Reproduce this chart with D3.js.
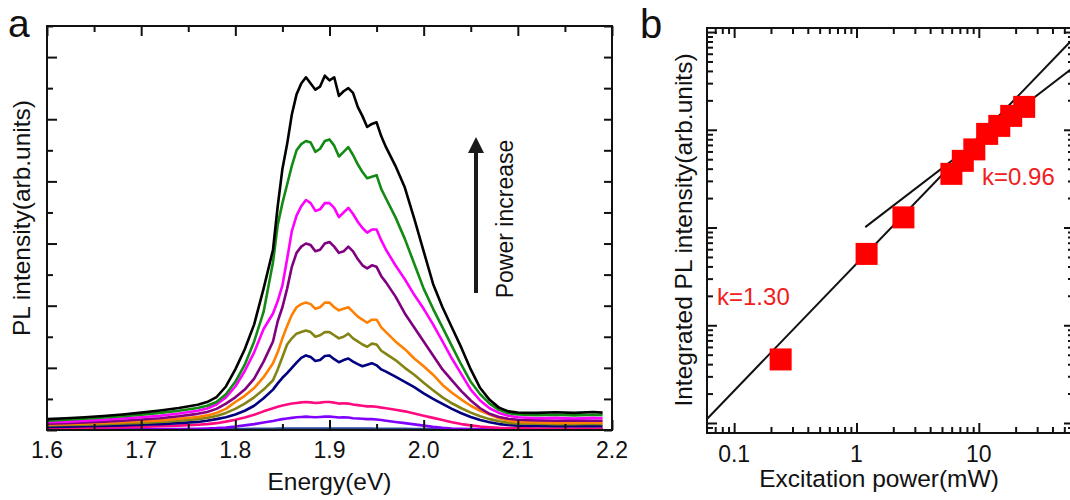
<!DOCTYPE html>
<html><head><meta charset="utf-8">
<script src="https://cdn.jsdelivr.net/npm/d3@7"></script>
<style>
body{margin:0;background:#fff}
svg{display:block}
text{font-family:"Liberation Sans",Arial,Helvetica,sans-serif;fill:#111}
</style>
</head><body>
<svg id="c" width="1070" height="500"></svg>
<script>
// ---------- Panel a data: PL spectra ----------
const energy = [1.60,1.62,1.64,1.66,1.68,1.70,1.72,1.74,1.76,1.77,1.78,1.79,1.80,1.81,1.82,1.83,
  1.84,1.845,1.85,1.855,1.86,1.865,1.87,1.875,1.88,1.885,1.89,1.895,1.90,1.905,1.91,1.915,1.92,1.925,1.93,1.935,1.94,1.945,1.95,1.955,1.96,
  1.97,1.98,1.99,2.00,2.01,2.02,2.03,2.04,2.05,2.06,2.07,2.08,2.09,2.10,
  2.12,2.14,2.16,2.18,2.19];

const plBlack = [0.35,0.38,0.41,0.45,0.50,0.56,0.63,0.71,0.81,0.90,1.06,1.40,1.95,2.60,3.40,4.55,
  5.80,7.20,8.40,9.20,10.15,10.80,11.15,11.35,11.15,10.95,11.05,11.40,11.25,11.35,10.75,10.90,11.00,10.85,10.40,10.10,9.75,9.85,9.90,9.45,9.10,
  8.50,7.80,6.80,5.75,4.70,3.95,3.30,2.65,1.95,1.35,0.97,0.72,0.60,0.56,
  0.55,0.57,0.55,0.58,0.56];
const plGreen = [0.30,0.33,0.36,0.40,0.44,0.49,0.55,0.62,0.71,0.78,0.90,1.15,1.55,2.10,2.85,3.80,
  5.40,6.60,7.30,7.90,8.50,9.00,9.20,9.30,9.25,8.95,9.05,9.30,9.35,9.15,8.80,8.95,9.10,8.85,8.55,8.30,8.10,8.15,8.20,7.75,7.45,
  6.85,6.15,5.35,4.55,3.90,3.30,2.70,2.10,1.55,1.15,0.85,0.65,0.54,0.50,
  0.48,0.49,0.47,0.49,0.48];
const plMagenta = [0.25,0.27,0.30,0.33,0.37,0.41,0.46,0.53,0.62,0.69,0.82,1.05,1.40,1.90,2.50,3.25,
  3.75,4.15,4.65,5.50,6.40,6.90,7.20,7.40,7.30,7.05,7.10,7.30,7.30,7.15,6.85,7.00,7.15,6.95,6.70,6.50,6.35,6.45,6.45,6.10,5.80,
  5.30,4.85,4.35,3.90,3.40,2.85,2.30,1.80,1.30,0.95,0.70,0.55,0.46,0.41,
  0.38,0.39,0.37,0.39,0.38];
const plPurple = [0.20,0.22,0.24,0.27,0.30,0.34,0.38,0.44,0.52,0.58,0.68,0.85,1.05,1.30,1.65,2.20,
  2.85,3.50,3.95,4.55,5.25,5.70,5.90,6.00,5.95,5.75,5.80,6.00,6.05,5.90,5.70,5.75,5.90,5.75,5.50,5.30,5.20,5.30,5.25,4.95,4.75,
  4.30,3.75,3.30,2.85,2.40,1.95,1.60,1.25,0.95,0.70,0.52,0.42,0.36,0.33,
  0.31,0.30,0.31,0.30,0.30];
const plOrange = [0.18,0.19,0.21,0.23,0.25,0.28,0.31,0.36,0.42,0.47,0.55,0.68,0.90,1.10,1.35,1.70,
  2.15,2.50,2.95,3.35,3.70,3.95,4.05,4.10,4.05,3.90,3.95,4.10,4.10,3.95,3.85,3.90,3.95,3.80,3.65,3.55,3.45,3.55,3.55,3.30,3.15,
  2.85,2.60,2.30,2.05,1.78,1.45,1.20,0.98,0.78,0.62,0.50,0.38,0.31,0.26,
  0.24,0.23,0.23,0.24,0.23];
const plOlive = [0.15,0.16,0.17,0.19,0.21,0.23,0.26,0.30,0.35,0.39,0.45,0.55,0.68,0.85,1.05,1.30,
  1.60,1.95,2.35,2.75,2.95,3.10,3.15,3.20,3.15,3.00,3.05,3.15,3.15,3.05,2.95,3.00,3.10,2.95,2.85,2.75,2.68,2.78,2.75,2.55,2.45,
  2.25,2.00,1.78,1.52,1.28,1.05,0.86,0.70,0.56,0.44,0.35,0.28,0.23,0.21,
  0.20,0.19,0.19,0.20,0.19];
const plNavy = [0.10,0.11,0.12,0.13,0.15,0.17,0.19,0.22,0.26,0.30,0.35,0.41,0.50,0.62,0.78,1.02,
  1.30,1.50,1.68,1.83,2.00,2.17,2.32,2.40,2.35,2.22,2.25,2.38,2.40,2.28,2.18,2.25,2.30,2.20,2.12,2.05,2.10,2.15,2.08,1.95,1.88,
  1.72,1.55,1.38,1.18,1.00,0.84,0.68,0.54,0.42,0.32,0.25,0.19,0.16,0.14,
  0.13,0.12,0.12,0.13,0.12];
const plPink = [0.05,0.06,0.07,0.08,0.09,0.10,0.12,0.14,0.17,0.19,0.22,0.27,0.33,0.40,0.49,0.60,
  0.70,0.75,0.79,0.82,0.85,0.87,0.89,0.90,0.89,0.87,0.88,0.90,0.90,0.88,0.85,0.86,0.85,0.82,0.80,0.78,0.76,0.76,0.75,0.72,0.70,
  0.65,0.60,0.53,0.46,0.39,0.32,0.25,0.19,0.15,0.11,0.09,0.07,0.06,0.06,
  0.05,0.05,0.05,0.05,0.05];
const plViolet = [0.02,0.02,0.02,0.02,0.02,0.03,0.03,0.03,0.04,0.05,0.06,0.08,0.11,0.15,0.19,0.24,
  0.29,0.32,0.35,0.37,0.39,0.41,0.42,0.43,0.42,0.41,0.42,0.43,0.43,0.42,0.40,0.41,0.40,0.38,0.37,0.36,0.35,0.35,0.34,0.32,0.30,
  0.26,0.22,0.18,0.14,0.10,0.07,0.05,0.04,0.03,0.03,0.02,0.02,0.02,0.02,
  0.02,0.02,0.02,0.02,0.02];
const plBlue = [0.02,0.02,0.02,0.02,0.02,0.02,0.02,0.02,0.02,0.02,0.02,0.03,0.03,0.03,0.04,0.04,
  0.04,0.05,0.05,0.05,0.05,0.05,0.05,0.05,0.05,0.05,0.05,0.05,0.05,0.05,0.05,0.05,0.05,0.05,0.05,0.05,0.05,0.05,0.04,0.04,0.04,
  0.04,0.04,0.03,0.03,0.03,0.03,0.02,0.02,0.02,0.02,0.02,0.02,0.02,0.02,
  0.02,0.02,0.02,0.02,0.02];

const spectraOrder = ["blue","violet","pink","navy","olive","orange","purple","magenta","green","black"];
const spectraValues = [plBlue,plViolet,plPink,plNavy,plOlive,plOrange,plPurple,plMagenta,plGreen,plBlack];
const spectraColors = ["#2a4a98","#8000ff","#ff0a80","#000080","#848414","#ff8000","#800080","#ff00ff","#138a13","#000000"];

const energyMajorTicks = [1.6,1.7,1.8,1.9,2.0,2.1,2.2];
const energyTickLabels = ["1.6","1.7","1.8","1.9","2.0","2.1","2.2"];
const energyMinorTicks = [1.65,1.75,1.85,1.95,2.05,2.15];
const plMajorTicks = [0,2,4,6,8,10,12];
const plMinorTicks = [1,3,5,7,9,11,13];

// ---------- Panel b data: integrated PL vs power ----------
const powerMW = [0.24,1.21,2.42,5.97,7.40,9.19,11.7,14.7,18.4,23.5];
const integratedPL = [4.47,53.7,127,354,481,630,908,1096,1387,1715];
const fitLowX = [0.06,60];     // k = 1.30
const fitLowY = [1.10,8710];
const fitHighX = [1.18,60];    // k = 0.96
const fitHighY = [101,4385];
const powerMajorTicks = [0.1,1,10];
const powerTickLabels = ["0.1","1","10"];
const powerMinorTicks = [0.07,0.08,0.09,0.2,0.3,0.4,0.5,0.6,0.7,0.8,0.9,2,3,4,5,6,7,8,9,20,30,40,50,60];
const intMajorTicks = [1,10,100,1000,10000];
const intMinorTicks = [0.8,0.9,2,3,4,5,6,7,8,9,20,30,40,50,60,70,80,90,200,300,400,500,600,700,800,900,2000,3000,4000,5000,6000,7000,8000,9000];

// ---------- drawing ----------
const svg = d3.select("#c");
const FONT = 23;

function tickSet(g, axisGen, vals, size){
  g.append("g").call(axisGen.tickValues(vals).tickSize(size).tickFormat(""))
    .call(s => { s.select(".domain").remove(); s.selectAll("line").attr("stroke","#111").attr("stroke-width",2); });
}

// ===== Panel a =====
const A = {l:47, r:612, t:26, b:430};
const xA = d3.scaleLinear().domain([1.6,2.2]).range([A.l,A.r]);
const yA = d3.scaleLinear().domain([0,13]).range([A.b,A.t]);

svg.append("clipPath").attr("id","clipA").append("rect")
  .attr("x",A.l).attr("y",A.t).attr("width",A.r-A.l).attr("height",A.b-A.t);

const gA = svg.append("g");
const line = d3.line().x((d,i)=>xA(energy[i])).y(d=>yA(d));
const curves = gA.append("g").attr("clip-path","url(#clipA)");
spectraValues.forEach((vals,k)=>{
  curves.append("path").datum(vals).attr("d",line)
    .attr("fill","none").attr("stroke",spectraColors[k]).attr("stroke-width",2.6)
    .attr("stroke-linejoin","round");
});

// ticks
const axA = gA.append("g");
tickSet(axA.append("g").attr("transform",`translate(0,${A.b})`), d3.axisBottom(xA), energyMajorTicks, -10);
tickSet(axA.append("g").attr("transform",`translate(0,${A.b})`), d3.axisBottom(xA), energyMinorTicks, -6);
tickSet(axA.append("g").attr("transform",`translate(0,${A.t})`), d3.axisTop(xA), energyMajorTicks, -10);
tickSet(axA.append("g").attr("transform",`translate(0,${A.t})`), d3.axisTop(xA), energyMinorTicks, -6);
tickSet(axA.append("g").attr("transform",`translate(${A.l},0)`), d3.axisLeft(yA), plMajorTicks, -10);
tickSet(axA.append("g").attr("transform",`translate(${A.l},0)`), d3.axisLeft(yA), plMinorTicks, -6);
tickSet(axA.append("g").attr("transform",`translate(${A.r},0)`), d3.axisRight(yA), plMajorTicks, -8);
tickSet(axA.append("g").attr("transform",`translate(${A.r},0)`), d3.axisRight(yA), plMinorTicks, -8);

gA.append("rect").attr("x",A.l).attr("y",A.t).attr("width",A.r-A.l).attr("height",A.b-A.t)
  .attr("fill","none").attr("stroke","#111").attr("stroke-width",2);

energyMajorTicks.forEach((v,i)=>{
  gA.append("text").attr("x",xA(v)).attr("y",458).attr("text-anchor","middle")
    .attr("font-size",FONT).text(energyTickLabels[i]);
});
gA.append("text").attr("x",(A.l+A.r)/2+0).attr("y",490).attr("text-anchor","middle")
  .attr("font-size",24.5).text("Energy(eV)");
gA.append("text").attr("transform",`translate(30,218) rotate(-90)`).attr("text-anchor","middle")
  .attr("font-size",24.5).text("PL intensity(arb.units)");
svg.append("text").attr("x",8).attr("y",37).attr("font-size",39).text("a");

// arrow + annotation
const arrowX = 476;
gA.append("line").attr("x1",arrowX).attr("x2",arrowX).attr("y1",293).attr("y2",150)
  .attr("stroke","#1a1a1a").attr("stroke-width",4);
gA.append("path").attr("d",`M${arrowX},137 L${arrowX-8},153 L${arrowX+8},153 Z`).attr("fill","#1a1a1a");
gA.append("text").attr("transform",`translate(513,219) rotate(-90)`).attr("text-anchor","middle")
  .attr("font-size",23).text("Power increase");

// ===== Panel b =====
const B = {l:707, r:1074, t:28, b:433};
const xB = d3.scaleLog().domain([0.06,60]).range([B.l,B.r]);
const yB = d3.scaleLog().domain([0.79,11000]).range([B.b,B.t]);

svg.append("clipPath").attr("id","clipB").append("rect")
  .attr("x",B.l).attr("y",B.t).attr("width",B.r-B.l).attr("height",B.b-B.t);
const gB = svg.append("g");

const fitLine = d3.line().x(d=>xB(d[0])).y(d=>yB(d[1]));
const fits = gB.append("g").attr("clip-path","url(#clipB)");
fits.append("path").datum(fitLowX.map((x,i)=>[x,fitLowY[i]])).attr("d",fitLine)
  .attr("fill","none").attr("stroke","#111").attr("stroke-width",2);
fits.append("path").datum(fitHighX.map((x,i)=>[x,fitHighY[i]])).attr("d",fitLine)
  .attr("fill","none").attr("stroke","#111").attr("stroke-width",2);

const SQ = 22;
gB.append("g").selectAll("rect").data(powerMW).join("rect")
  .attr("x",(d)=>xB(d)-SQ/2).attr("y",(d,i)=>yB(integratedPL[i])-SQ/2)
  .attr("width",SQ).attr("height",SQ).attr("fill","#ff0000");

const axB = gB.append("g");
tickSet(axB.append("g").attr("transform",`translate(0,${B.b})`), d3.axisBottom(xB), powerMajorTicks, -10);
tickSet(axB.append("g").attr("transform",`translate(0,${B.b})`), d3.axisBottom(xB), powerMinorTicks, -6);
tickSet(axB.append("g").attr("transform",`translate(0,${B.t})`), d3.axisTop(xB), powerMajorTicks, -10);
tickSet(axB.append("g").attr("transform",`translate(0,${B.t})`), d3.axisTop(xB), powerMinorTicks, -6);
tickSet(axB.append("g").attr("transform",`translate(${B.l},0)`), d3.axisLeft(yB), intMajorTicks, -10);
tickSet(axB.append("g").attr("transform",`translate(${B.l},0)`), d3.axisLeft(yB), intMinorTicks, -6);
tickSet(axB.append("g").attr("transform",`translate(${B.r},0)`), d3.axisRight(yB), intMajorTicks, -10);
tickSet(axB.append("g").attr("transform",`translate(${B.r},0)`), d3.axisRight(yB), intMinorTicks, -6);

gB.append("rect").attr("x",B.l).attr("y",B.t).attr("width",B.r-B.l).attr("height",B.b-B.t)
  .attr("fill","none").attr("stroke","#111").attr("stroke-width",2);

powerMajorTicks.forEach((v,i)=>{
  gB.append("text").attr("x",xB(v)).attr("y",462).attr("text-anchor","middle")
    .attr("font-size",FONT).text(powerTickLabels[i]);
});
gB.append("text").attr("x",879).attr("y",487).attr("text-anchor","middle")
  .attr("font-size",24.5).text("Excitation power(mW)");
gB.append("text").attr("transform",`translate(692,230) rotate(-90)`).attr("text-anchor","middle")
  .attr("font-size",24.5).text("Integrated PL intensity(arb.units)");
svg.append("text").attr("x",640).attr("y",38).attr("font-size",40).text("b");

gB.append("text").attr("x",717).attr("y",305).attr("font-size",24).style("fill","#f02020").text("k=1.30");
gB.append("text").attr("x",982).attr("y",185).attr("font-size",24).style("fill","#f02020").text("k=0.96");
</script>
</body></html>
